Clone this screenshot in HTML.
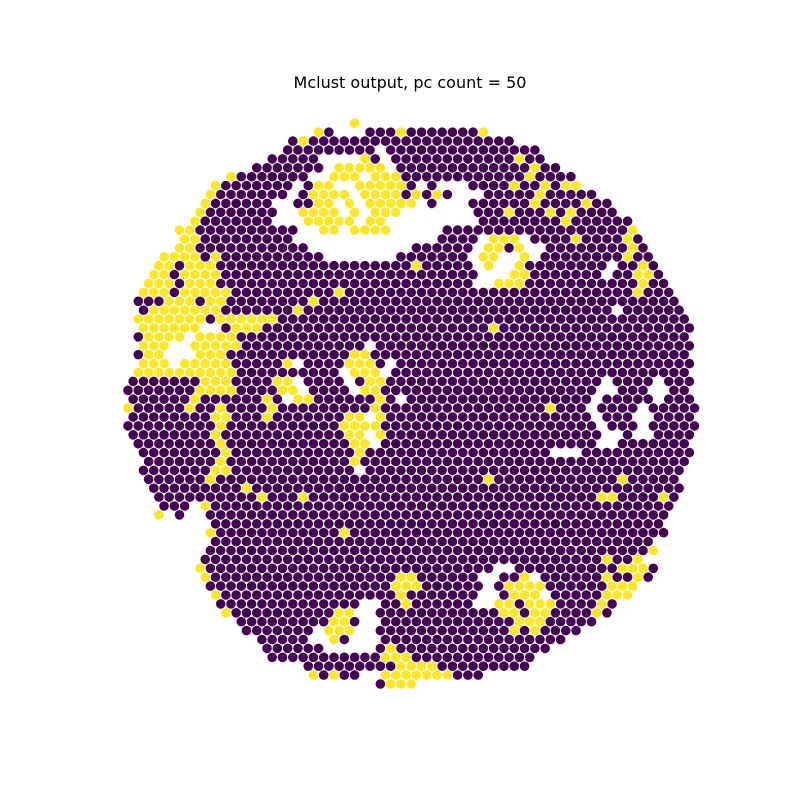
<!DOCTYPE html>
<html>
<head>
<meta charset="utf-8">
<style>
  html, body { margin: 0; padding: 0; background: #ffffff; }
  #chart { display: block; width: 800px; height: 800px; }
  text { font-family: "DejaVu Sans", "Liberation Sans", sans-serif; }
</style>
</head>
<body>
<svg id="chart" width="800" height="800" viewBox="0 0 800 800" xmlns="http://www.w3.org/2000/svg">
  <rect x="0" y="0" width="800" height="800" fill="#ffffff"/>
  <text x="410" y="88" text-anchor="middle" font-size="16" fill="#000000">Mclust output, pc count = 50</text>
  <g id="spots"></g>
</svg>
<script>
// Cluster labels per hex-grid row: "a-b" column range + cluster code
// p = cluster 1 (purple), y = cluster 2 (yellow), . = no spot
const clusterNames = ["cluster-1", "cluster-2"];
const clusterColors = ["#440154", "#fde725"];
const spotRows = [
  "22y",
  "18y 19p 23-33p 26y 34y",
  "16-37p 17y",
  "15-39p 24.",
  "14-40p 19-22. 23y 25. 38y",
  "12-41p 19. 20-24y 25. 39y",
  "10-43p 10y 18-19. 20-26y 23. 39y",
  "8-43p 8y 16. 18-19y 20-21. 22-26y 28. 30-32. 37y 40y 42y 43y",
  "8-45p 8y 16. 18-21y 22. 23-26y 28y 30y 32-34. 40y",
  "7-46p 7y 14-15. 18-19y 20. 21y 22. 23-27y 28. 30-32. 39y 44y",
  "7-47p 7y 15-16. 17-20y 21. 22y 23. 24-26y 27-33. 37y 41y 43y",
  "6-48p 6y 14-16. 17-21y 22. 23-24y 25-33. 42y",
  "5-49p 5y 6y 17-30. 19-20y 22-25y 49y",
  "5-49p 5y 6y 16-29. 34. 35-37y 38. 43y 48y",
  "5-50p 5y 6y 18-27. 34. 35y 36y 37p 38y 39-40. 49y",
  "3-50p 3-8y 7p 19-25. 33. 34y 35y 36-37. 38y 39. 48y",
  "3-51p 3-8y 5p 28y 34. 35y 36-37. 38y 47. 50y",
  "2-51p 2-8y 4p 34-36. 37y 38y 46. 49y 50y",
  "2-52p 2-8y 5p 34-35. 36-38y 50y",
  "1-52p 1-8y 4p 9y 20y 49y",
  "1-53p 4-6y 8-9y 18y",
  "1-53p 2-8y 16y 47.",
  "1-54p 1-7y 9-14y",
  "1-54p 1-6y 7-8. 10-12y 35y",
  "1-54p 2-5y 6. 7-10y",
  "1-54p 1-3y 4-5. 6-10y 23.",
  "1-54p 2-3y 4-6. 7-9y 22-23y",
  "1-54p 1-3y 4. 5-9y 15y 16. 21-23y 25.",
  "1-54p 1-10y 21. 22-24y 25.",
  "0-54p 7-9y 14-15y 16. 21. 23-24y 46. 51.",
  "0-54p 7-10y 15-16y 17. 22. 23-24y 46-47. 51-52.",
  "0-54p 6y 13y 15. 16-17y 24y 26. 45. 51.",
  "0-55p 0y 6y 9y 14y 24y 41y 45. 50.",
  "0-54p 8-9y 13y 21-24y 23. 45. 49-50.",
  "0-55p 9y 21-24y 46. 50.",
  "0-54p 8y 21-24y 23. 46-47. 49-50.",
  "1-54p 9y 22-23y 24. 46-47.",
  "1-54p 9y 22y 41-43.",
  "2-54p 9y 22y",
  "1-53p 8-9y 22.",
  "2-53p 8y 35y 48y",
  "2-53p 11y",
  "3-53p 13y 17y 46-47y 52y",
  "3-5p 7y 8-52p",
  "3y 5p 8-52p",
  "8-51p",
  "8-52p 8y 21y",
  "8-50p",
  "8-51p 51y",
  "7-49p 46y 49y",
  "7-51p 7y 36-37. 48-50y",
  "7-50p 7y 26-27y 34-35. 38y 39. 46y 49y",
  "8-49p 26-28y 35. 37-40y 47-49y",
  "8-48p 8y 26y 34-35. 37-39y 40. 46-48y",
  "9-47p 23-24. 27y 34-35. 36-37y 39-41y 46y",
  "9-46p 9y 20-21y 22-23. 36-40y 38p 45y",
  "11-45p 20-21y 23-24. 38-40y",
  "11-43p 18. 19-21y 22-23. 37y 39y",
  "13-42p 18-19. 20y 22-24.",
  "13-40p 19-23. 25y",
  "14-39p 25-27y",
  "17-38p 26-29y",
  "18y 19p 20y 21-22p 25-31y 32-34p",
  "24p 25-27y"
];

const NS = "http://www.w3.org/2000/svg";
const layer = document.getElementById("spots");
const X0 = 128, DX = 10.3, Y0 = 123.3, DY = 8.9, R = 4.8;
function xScale(row, col) { return X0 + col * DX + (row % 2 ? DX / 2 : 0); }
function yScale(row) { return Y0 + row * DY; }

spotRows.forEach(function (rowSpec, r) {
  const cells = {};
  rowSpec.split(/\s+/).forEach(function (tok) {
    const m = tok.match(/^(\d+)(?:-(\d+))?([py.])$/);
    if (!m) return;
    const a = +m[1], b = m[2] ? +m[2] : a;
    for (let c = a; c <= b; c++) cells[c] = m[3];
  });
  Object.keys(cells).forEach(function (k) {
    const v = cells[k];
    if (v === ".") return;
    const ci = v === "y" ? 1 : 0;
    const c = document.createElementNS(NS, "circle");
    c.setAttribute("cx", xScale(r, +k).toFixed(2));
    c.setAttribute("cy", yScale(r).toFixed(2));
    c.setAttribute("r", R);
    c.setAttribute("fill", clusterColors[ci]);
    
    
    layer.appendChild(c);
  });
});
</script>
</body>
</html>
